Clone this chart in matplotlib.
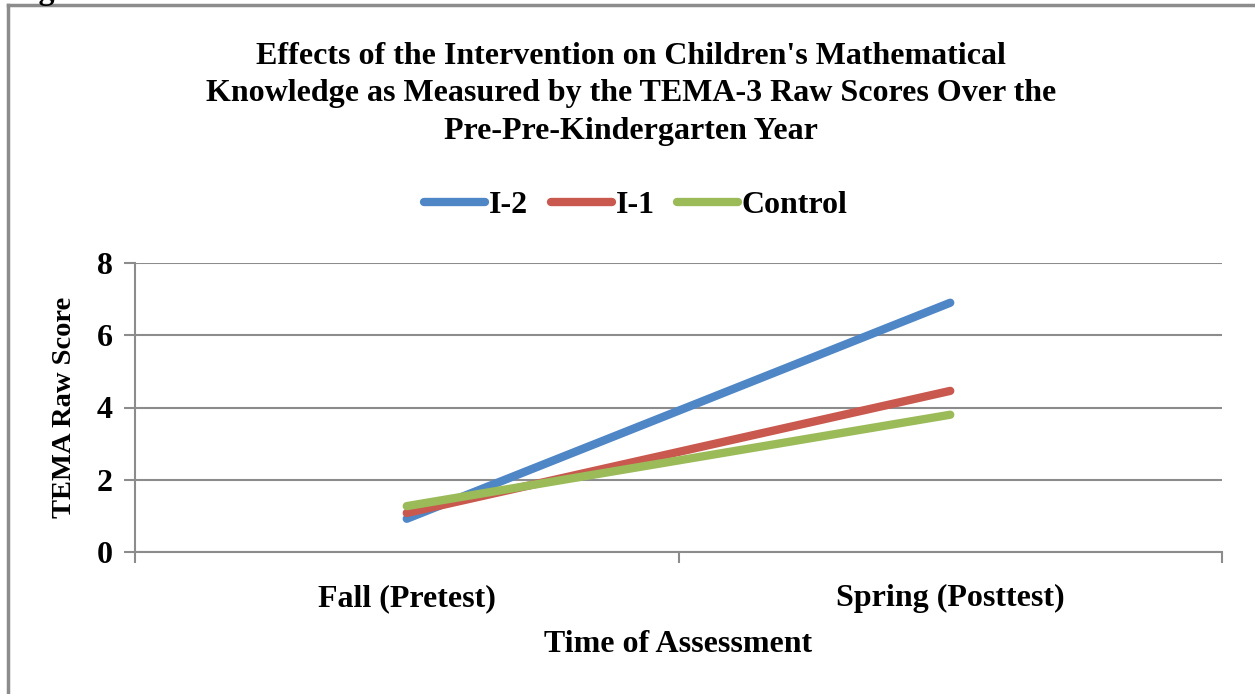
import matplotlib.pyplot as plt
from matplotlib.lines import Line2D

# data
categories = ['Fall (Pretest)', 'Spring (Posttest)']
i2 = [0.92, 6.9]
i1 = [1.08, 4.46]
control = [1.27, 3.8]
series_names = ['I-2', 'I-1', 'Control']
yticks = [0, 2, 4, 6, 8]

colors = ['#4F86C6', '#C9584E', '#9BBB59']
grey = '#8C8C8C'
fs = 23

plt.rcParams['font.family'] = ['Liberation Serif', 'DejaVu Serif']
plt.rcParams['font.weight'] = 'bold'

fig = plt.figure(figsize=(12.55, 6.94), dpi=100)
ax = fig.add_axes([135/1255, 1-552/694, (1222-135)/1255, (552-263)/694])

x = range(len(categories))
for vals, name, c in zip([i2, i1, control], series_names, colors):
    ax.plot(x, vals, color=c, lw=6, solid_capstyle='round', label=name)

ax.set_xlim(-0.5, 1.5)
ax.set_ylim(0, 8)
ax.set_yticks(yticks)
ax.set_yticklabels([str(t) for t in yticks], fontsize=fs, fontweight='bold')
ax.set_xticks(list(x))
ax.set_xticklabels(categories, fontsize=fs, fontweight='bold')
ax.set_xticks([-0.5, 0.5, 1.5], minor=True)
ax.tick_params(axis='x', which='major', length=0, pad=23)
ax.tick_params(axis='x', which='minor', length=8, width=1.5, color=grey, direction='out')
ax.tick_params(axis='y', length=8, width=1.5, color=grey, direction='out', pad=8)

ax.grid(axis='y', color=grey, lw=1.5)
ax.set_axisbelow(True)
for s in ['top', 'right']:
    ax.spines[s].set_visible(False)
for s in ['left', 'bottom']:
    ax.spines[s].set_color(grey)
    ax.spines[s].set_linewidth(1.5)

ax.set_ylabel('TEMA Raw Score', fontsize=20.5, fontweight='bold', labelpad=14)
ax.set_xlabel('Time of Assessment', fontsize=fs, fontweight='bold', labelpad=12)

fig.text(0.503, 1-94/694,
         "Effects of the Intervention on Children's Mathematical\n"
         "Knowledge as Measured by the TEMA-3 Raw Scores Over the\n"
         "Pre-Pre-Kindergarten Year",
         ha='center', va='center', fontsize=23, fontweight='bold', linespacing=1.37)

fig.legend(loc='center', bbox_to_anchor=(636/1255, 1-205/694), ncol=3, frameon=False,
           handlelength=1.9, handletextpad=0.12, columnspacing=0.72,
           prop={'weight': 'bold', 'size': fs})

# outer frame and caption cut off at the top
fig.add_artist(Line2D([8/1255, 1], [1-5/694, 1-5/694], color=grey, lw=2.5))
fig.add_artist(Line2D([8/1255, 8/1255], [0, 1-5/694], color=grey, lw=2.5))
fig.text(10/1255, 1+1/694, 'Figure 1', fontsize=fs, fontweight='bold', va='baseline')

fig.savefig('out.png', dpi=100)
